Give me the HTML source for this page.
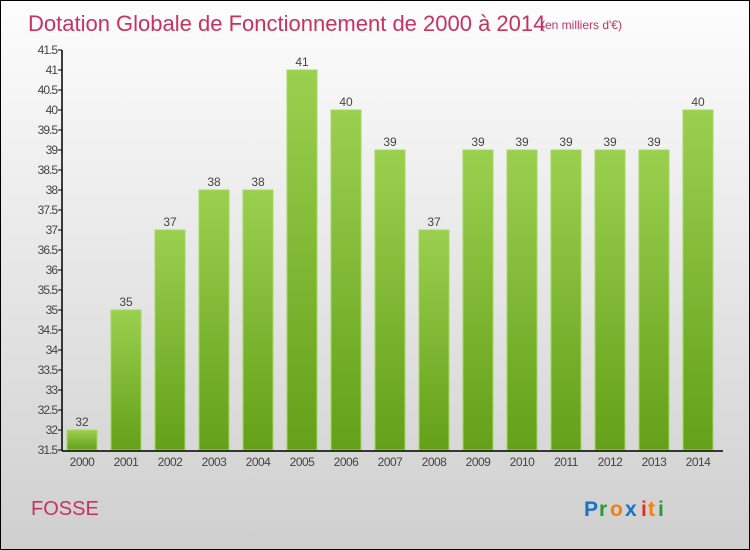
<!DOCTYPE html>
<html><head><meta charset="utf-8"><style>
body{margin:0;}
#wrap{position:relative;width:748px;height:548px;border:1px solid #000;background:linear-gradient(#fdfdfd,#cfcfcf);font-family:"Liberation Sans",sans-serif;overflow:hidden;}
</style></head><body>
<div id="wrap">
<svg id="svg" width="748" height="548">
<defs><linearGradient id="bg" x1="0" y1="0" x2="0" y2="1"><stop offset="0" stop-color="#9bd04f"/><stop offset="1" stop-color="#64a019"/></linearGradient></defs>
<text x="27" y="30" font-size="22" fill="#c8325f">Dotation Globale de Fonctionnement de 2000 à 2014</text>
<text x="540" y="28" font-size="12" fill="#c8325f">(en milliers d'€)</text>
<text x="30" y="514" font-size="20" fill="#c8325f">FOSSE</text>
<g id="marks"></g>
<g font-size="21" font-weight="bold">
<text x="583" y="515" fill="#1a73c8">P</text><text x="598" y="515" fill="#2a9a3a">r</text><text x="609" y="515" fill="#f08010">o</text><text x="624" y="515" fill="#1a73c8">x</text><text x="640" y="515" fill="#e03020">i</text><text x="647" y="515" fill="#f08010">t</text><text x="657" y="515" fill="#2a9a3a">i</text>
</g>
</svg>
</div>
<script>
const years=["2000","2001","2002","2003","2004","2005","2006","2007","2008","2009","2010","2011","2012","2013","2014"];
const values=[32,35,37,38,38,41,40,39,37,39,39,39,39,39,40];
const ticks=[31.5,32,32.5,33,33.5,34,34.5,35,35.5,36,36.5,37,37.5,38,38.5,39,39.5,40,40.5,41,41.5];
const NS="http://www.w3.org/2000/svg";
const g=document.getElementById('marks');
const y=v=>449-(v-31.5)*40;
const x=i=>66+i*44;
function mk(t,a){const e=document.createElementNS(NS,t);for(const k in a)e.setAttribute(k,a[k]);g.appendChild(e);return e;}
ticks.forEach(t=>{
 const l=mk('line',{x1:57,x2:61,y1:y(t),y2:y(t),stroke:'#000'});
 
 
 const tx=mk('text',{x:56,y:y(t)+4,'text-anchor':'end','font-size':12,fill:'#444','letter-spacing':'-1'});
 tx.textContent=String(t);
 
 
});
values.forEach((v,i)=>{
 const r=mk('rect',{x:x(i),y:y(v),width:30,height:449-y(v),fill:'url(#bg)',stroke:'#a6d860','stroke-width':1});
 
 
 const vt=mk('text',{x:x(i)+15,y:y(v)-4,'text-anchor':'middle','font-size':12,fill:'#444'});
 vt.textContent=v;
 
 
 const xt=mk('text',{x:x(i)+15,y:465,'text-anchor':'middle','font-size':12,fill:'#444','letter-spacing':'-0.5'});
 xt.textContent=years[i];
 
 
});
const ya=mk('line',{x1:61,x2:61,y1:49,y2:450,stroke:'#000','stroke-width':1.5});


const xa=mk('line',{x1:61,x2:722,y1:450,y2:450,stroke:'#000','stroke-width':1.5});


</script>
</body></html>
